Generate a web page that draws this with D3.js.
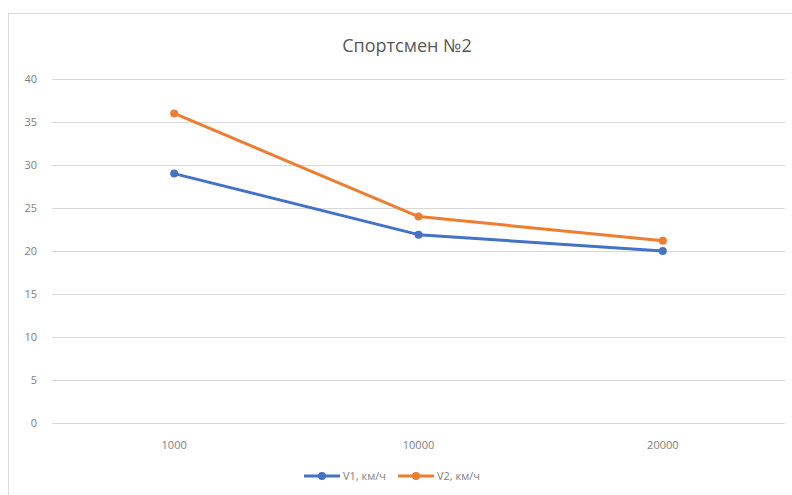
<!DOCTYPE html>
<html><head><meta charset="utf-8">
<script src="https://cdn.jsdelivr.net/npm/d3@7"></script>
<style>body{margin:0;background:#fff}svg{display:block}text{font-family:"Open Sans","Liberation Sans",sans-serif}</style>
</head><body><svg id="c" width="792" height="495"></svg>
<script>
const categories = ["1000", "10000", "20000"];
const v1 = [29, 21.9, 20];
const v2 = [36, 24, 21.2];
const yTicks = [0, 5, 10, 15, 20, 25, 30, 35, 40];
const seriesNames = ["V1, км/ч", "V2, км/ч"];
const colors = ["#4472C4", "#ED7D31"];

const svg = d3.select("#c");
// chart frame
svg.append("rect").attr("x", 8.5).attr("y", 13.5).attr("width", 800).attr("height", 500)
  .attr("fill", "#fff").attr("stroke", "#d9d9d9");

const x = d3.scaleBand().domain(categories).range([52, 785]);
const y = d3.scaleLinear().domain([0, 40]).range([423, 79]);

// gridlines
svg.append("g").selectAll("line").data(yTicks).join("line")
  .attr("x1", 52).attr("x2", 785)
  .attr("y1", d => Math.round(y(d)) + 0.5).attr("y2", d => Math.round(y(d)) + 0.5)
  .attr("stroke", "#d9d9d9").attr("stroke-width", 1);

// y labels
svg.append("g").selectAll("text").data(yTicks).join("text")
  .attr("x", 37).attr("y", d => y(d)).attr("dy", "0.35em")
  .attr("text-anchor", "end").attr("font-size", 11).attr("fill", "#7f7f7f")
  .text(d => d);

// x labels
svg.append("g").selectAll("text").data(categories).join("text")
  .attr("x", d => x(d) + x.bandwidth() / 2).attr("y", 449)
  .attr("text-anchor", "middle").attr("font-size", 11).attr("fill", "#7f7f7f")
  .text(d => d);

// title
svg.append("text").attr("x", 407).attr("y", 52).attr("text-anchor", "middle")
  .attr("font-size", 18).attr("fill", "#595959").text("Спортсмен №2");

const line = d3.line().x((d, i) => x(categories[i]) + x.bandwidth() / 2).y(d => y(d));
[v1, v2].forEach((s, k) => {
  svg.append("path").datum(s).attr("d", line).attr("fill", "none")
    .attr("stroke", colors[k]).attr("stroke-width", 3).attr("stroke-linejoin", "round");
  svg.append("g").selectAll("circle").data(s).join("circle")
    .attr("cx", (d, i) => x(categories[i]) + x.bandwidth() / 2).attr("cy", d => y(d))
    .attr("r", 4).attr("fill", colors[k]);
});

// legend
const lx = [304, 398];
seriesNames.forEach((n, k) => {
  const g = svg.append("g").attr("transform", `translate(${lx[k]},476)`);
  g.append("line").attr("x1", 0).attr("x2", 36).attr("stroke", colors[k]).attr("stroke-width", 3);
  g.append("circle").attr("cx", 18).attr("r", 4).attr("fill", colors[k]);
  g.append("text").attr("x", 39).attr("dy", "0.35em").attr("font-size", 11).attr("fill", "#7f7f7f").text(n);
});
</script></body></html>
